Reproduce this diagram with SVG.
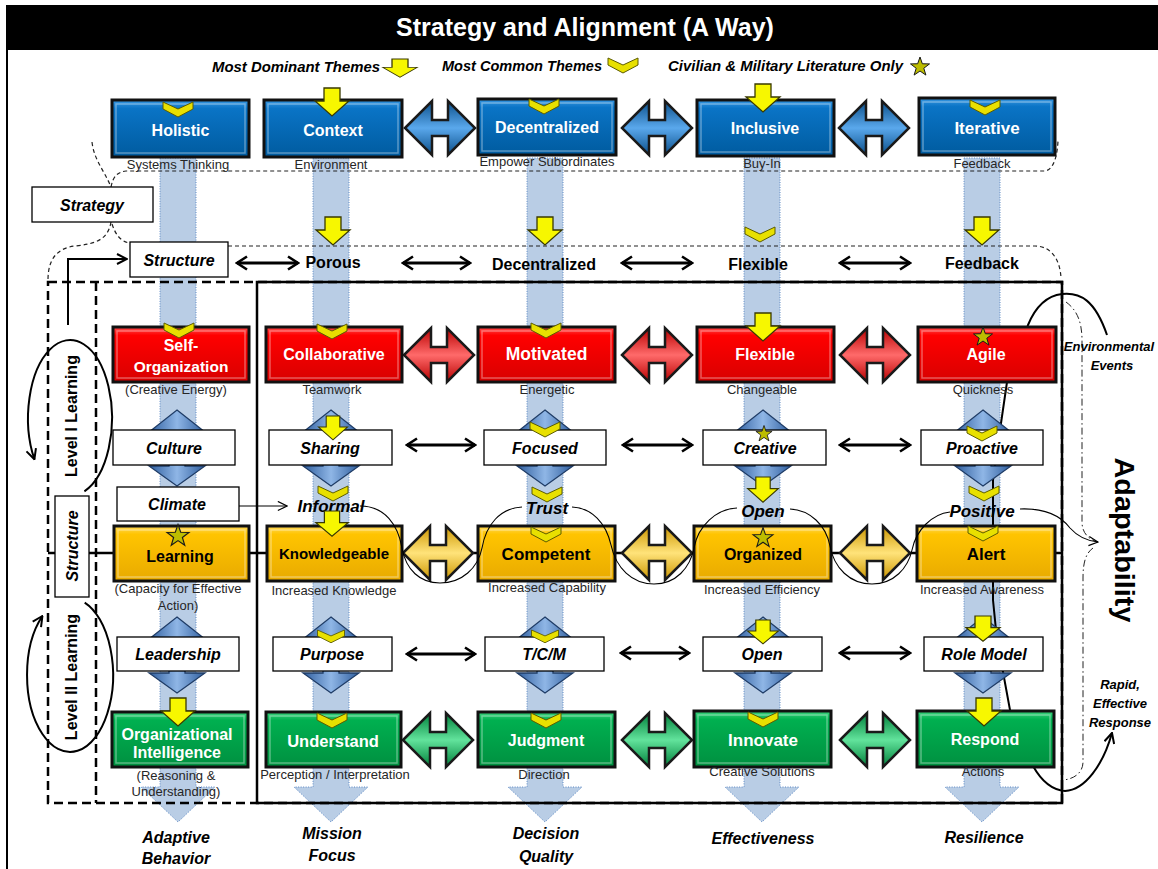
<svg xmlns="http://www.w3.org/2000/svg" width="1158" height="869" viewBox="0 0 1158 869">
<style>
text{font-family:"Liberation Sans",Arial,sans-serif}
.title{font-size:25px;font-weight:bold;fill:#fff;text-anchor:middle}
.leg{font-size:15px;font-weight:bold;font-style:italic;fill:#000}
.bw{font-size:16px;font-weight:bold;fill:#fff;text-anchor:middle}
.bk{font-size:16px;font-weight:bold;fill:#000;text-anchor:middle}
.sub{font-size:13px;fill:#262626;text-anchor:middle}
.bi{font-size:16px;font-weight:bold;font-style:italic;fill:#000;text-anchor:middle}
.b{font-size:16px;font-weight:bold;fill:#000;text-anchor:middle}
.sm{font-size:13px;font-weight:bold;font-style:italic;fill:#000;text-anchor:middle}
.band{fill:#b9cde5;stroke:#5f8ac4;stroke-width:1;stroke-dasharray:1 1.5}
.bx{stroke:#111;stroke-width:3}
.bev{fill:none;stroke:#fff;stroke-opacity:.35;stroke-width:1.5}
.tb{fill:#fff;stroke:#000;stroke-width:1.3}
.yel{fill:#f7f700;stroke:#3a3a00;stroke-width:1.3}
.chv{fill:#e8e000;stroke:#5c5c00;stroke-width:1}
.star{fill:#bdbd00;stroke:#1a1a1a;stroke-width:1}
.harr{stroke:#1a1a1a;stroke-width:2.5}
.varr{fill:url(#gV);stroke:#1f3c66;stroke-width:1.3}
.dash{fill:none;stroke:#222;stroke-width:1.2;stroke-dasharray:4 3}
.dd{fill:none;stroke:#222;stroke-width:1;stroke-dasharray:7 3 1.5 3}
.thick{fill:none;stroke:#000;stroke-width:3}
.mid{fill:none;stroke:#000;stroke-width:2}
.thin{fill:none;stroke:#000;stroke-width:1.1}
</style>
<defs>
<linearGradient id="gBlue" x1="0" y1="0" x2="0" y2="1"><stop offset="0" stop-color="#3a98e2"/><stop offset="0.15" stop-color="#0a74c6"/><stop offset="1" stop-color="#005b9f"/></linearGradient>
<linearGradient id="gRed" x1="0" y1="0" x2="0" y2="1"><stop offset="0" stop-color="#ff5050"/><stop offset="0.15" stop-color="#ff0000"/><stop offset="1" stop-color="#d80000"/></linearGradient>
<linearGradient id="gGold" x1="0" y1="0" x2="0" y2="1"><stop offset="0" stop-color="#ffd95a"/><stop offset="0.15" stop-color="#ffc400"/><stop offset="1" stop-color="#e8aa00"/></linearGradient>
<linearGradient id="gGreen" x1="0" y1="0" x2="0" y2="1"><stop offset="0" stop-color="#3fd47f"/><stop offset="0.15" stop-color="#00b050"/><stop offset="1" stop-color="#009040"/></linearGradient>
<linearGradient id="hB" x1="0" y1="0" x2="0" y2="1"><stop offset="0" stop-color="#0b4f8a"/><stop offset="0.5" stop-color="#5aa8ec"/><stop offset="1" stop-color="#0b4f8a"/></linearGradient>
<linearGradient id="hR" x1="0" y1="0" x2="0" y2="1"><stop offset="0" stop-color="#b80000"/><stop offset="0.5" stop-color="#ff6a6a"/><stop offset="1" stop-color="#b80000"/></linearGradient>
<linearGradient id="hY" x1="0" y1="0" x2="0" y2="1"><stop offset="0" stop-color="#cc9600"/><stop offset="0.5" stop-color="#ffe37a"/><stop offset="1" stop-color="#cc9600"/></linearGradient>
<linearGradient id="hG" x1="0" y1="0" x2="0" y2="1"><stop offset="0" stop-color="#00803a"/><stop offset="0.5" stop-color="#62e39c"/><stop offset="1" stop-color="#00803a"/></linearGradient>
<linearGradient id="gV" x1="0" y1="0" x2="1" y2="0"><stop offset="0" stop-color="#2f5e9e"/><stop offset="0.5" stop-color="#8fb6e6"/><stop offset="1" stop-color="#2f5e9e"/></linearGradient>
<path id="yarrow" class="yel" d="M-8,0H8V13H17L0,28L-17,13H-8Z"/>
<path id="chev" class="chv" d="M-15,0L0,7L15,0L15,7L0,15L-15,7Z"/>
<path id="star" class="star" d="M0,-10L2.35,-3.24L9.51,-3.09L3.8,1.24L5.88,8.09L0,4L-5.88,8.09L-3.8,1.24L-9.51,-3.09L-2.35,-3.24Z"/>
<path id="harr" class="harr" d="M-35,0L-8,-27V-8H8V-27L35,0L8,27V8H-8V27Z"/>
<marker id="ah" viewBox="0 0 14 16" refX="12" refY="8" markerWidth="14" markerHeight="16" markerUnits="userSpaceOnUse" orient="auto-start-reverse"><path d="M2,1.5L12,8L2,14.5" fill="none" stroke="#000" stroke-width="2.6"/></marker>
<marker id="am" viewBox="0 0 12 12" refX="11" refY="6" markerWidth="12" markerHeight="12" markerUnits="userSpaceOnUse" orient="auto"><path d="M1,1L11,6L1,11" fill="none" stroke="#000" stroke-width="2"/></marker>
<marker id="at" viewBox="0 0 12 12" refX="11" refY="6" markerWidth="11" markerHeight="11" markerUnits="userSpaceOnUse" orient="auto"><path d="M1,1L11,6L1,11" fill="none" stroke="#000" stroke-width="1.3"/></marker>
</defs>

<rect x="0" y="0" width="1158" height="869" fill="#fff"/>
<g id="title">
<rect x="6" y="5" width="1152" height="45" fill="#000"/>
<text class="title" x="585" y="36">Strategy and Alignment (A Way)</text>
<line x1="7" y1="50" x2="7" y2="869" stroke="#000" stroke-width="2"/>
</g>

<g id="legend">
<text class="leg" x="212" y="72" textLength="168" lengthAdjust="spacingAndGlyphs">Most Dominant Themes</text>
<use href="#yarrow" transform="translate(400,59) scale(1,0.65)"/>
<text class="leg" x="442" y="71" textLength="160" lengthAdjust="spacingAndGlyphs">Most Common Themes</text>
<use href="#chev" transform="translate(623,58)"/>
<text class="leg" x="668" y="71" textLength="235" lengthAdjust="spacingAndGlyphs">Civilian &amp; Military Literature Only</text>
<use href="#star" transform="translate(920,67)"/>
</g>

<g id="bands">
<path class="band" d="M160,158H196V787H215L178,822L141,787H160Z"/>
<path class="band" d="M313,158H349V787H368L331,822L294,787H313Z"/>
<path class="band" d="M527,158H563V787H582L545,822L508,787H527Z"/>
<path class="band" d="M744,158H780V787H799L762,822L725,787H744Z"/>
<path class="band" d="M964,158H1000V787H1019L982,822L945,787H964Z"/>
</g>

<g id="connectors">
<path class="dash" d="M92,142C94,160 104,170 111,187M111,187C113,177 117,172 126,171L1044,171C1052,171 1057,160 1058,141"/>
<path class="dash" d="M111,222C108,240 95,244 75,246C58,248 48,258 48,280M112,224C116,236 121,241 129,243M228,246L1035,246C1050,246 1060,258 1061,278"/>
<rect x="48" y="282" width="1014" height="521" fill="none" stroke="#000" stroke-width="2.5" stroke-dasharray="9 5"/>
<rect x="257" y="282" width="805" height="521" fill="none" stroke="#000" stroke-width="2.5"/>
<line x1="96" y1="282" x2="96" y2="803" stroke="#000" stroke-width="2.5" stroke-dasharray="9 5"/>
<line x1="48" y1="553" x2="1062" y2="553" stroke="#000" stroke-width="2.5"/>
<path class="mid" d="M68,325V259H127" marker-end="url(#am)"/>
<path class="mid" d="M84.4,491.3A42,78 0 1,0 34.4,459.3" marker-end="url(#am)"/>
<path class="mid" d="M84.7,602.6A43,77 0 1,1 42.4,616" marker-end="url(#am)"/>
<path class="mid" d="M1107,335C1095,300 1080,292 1062,294C1045,296 1035,308 1028,325L1007,382L1000,430L993,480L993,600L996,630L1003,672L1010,710L1033,766C1042,782 1052,790 1065,791C1085,790 1103,765 1112,733" marker-end="url(#am)"/>
<path class="dd" d="M1066,302C1077,310 1082,322 1082,340L1082,522C1082,534 1090,540 1098,542M1093,548C1086,553 1083,562 1083,578L1083,762C1083,772 1075,779 1063,780"/>
<use href="#harr" transform="translate(440,128)" fill="url(#hB)"/>
<use href="#harr" transform="translate(657,128)" fill="url(#hB)"/>
<use href="#harr" transform="translate(874,128)" fill="url(#hB)"/>
<use href="#harr" transform="translate(439,355)" fill="url(#hR)"/>
<use href="#harr" transform="translate(657,355)" fill="url(#hR)"/>
<use href="#harr" transform="translate(875,355)" fill="url(#hR)"/>
<use href="#harr" transform="translate(438,553)" fill="url(#hY)"/>
<use href="#harr" transform="translate(657,553)" fill="url(#hY)"/>
<use href="#harr" transform="translate(875,553)" fill="url(#hY)"/>
<use href="#harr" transform="translate(438,740)" fill="url(#hG)"/>
<use href="#harr" transform="translate(657,740)" fill="url(#hG)"/>
<use href="#harr" transform="translate(875,740)" fill="url(#hG)"/>
<path class="varr" d="M177,410L205,432H185V466H205L177,486L149,466H169V432H149Z"/>
<path class="varr" d="M331,410L359,432H339V466H359L331,486L303,466H323V432H303Z"/>
<path class="varr" d="M545,410L573,432H553V466H573L545,486L517,466H537V432H517Z"/>
<path class="varr" d="M763,410L791,432H771V466H791L763,486L735,466H755V432H735Z"/>
<path class="varr" d="M983,410L1011,432H991V466H1011L983,486L955,466H975V432H955Z"/>
<path class="varr" d="M177,617L205,639H185V673H205L177,693L149,673H169V639H149Z"/>
<path class="varr" d="M331,617L359,639H339V673H359L331,693L303,673H323V639H303Z"/>
<path class="varr" d="M545,617L573,639H553V673H573L545,693L517,673H537V639H517Z"/>
<path class="varr" d="M763,617L791,639H771V673H791L763,693L735,673H755V639H735Z"/>
<path class="varr" d="M983,617L1011,639H991V673H1011L983,693L955,673H975V639H955Z"/>
<g class="thick" marker-start="url(#ah)" marker-end="url(#ah)">
<line x1="237" y1="263" x2="298" y2="263"/>
<line x1="403" y1="263" x2="470" y2="263"/>
<line x1="622" y1="263" x2="692" y2="263"/>
<line x1="840" y1="263" x2="910" y2="263"/>
<line x1="407" y1="445" x2="475" y2="445"/>
<line x1="623" y1="445" x2="692" y2="445"/>
<line x1="840" y1="445" x2="910" y2="445"/>
<line x1="407" y1="654" x2="475" y2="654"/>
<line x1="621" y1="653" x2="689" y2="653"/>
<line x1="840" y1="653" x2="910" y2="653"/>
</g>
<line class="thin" x1="239" y1="506" x2="287" y2="506" marker-end="url(#at)"/>
</g>

<g id="n-strategy"><rect class="tb" x="32" y="187" width="121" height="35"/><text class="bi" x="92" y="211">Strategy</text></g>
<g id="n-structure"><rect class="tb" x="130" y="242" width="98" height="35"/><text class="bi" x="179" y="266">Structure</text></g>
<g id="n-level1"><text class="b" transform="translate(77,416) rotate(-90)">Level I Learning</text></g>
<g id="n-level2"><text class="b" transform="translate(77,677) rotate(-90)">Level II Learning</text></g>
<g id="n-structure-v"><rect class="tb" x="55" y="496" width="34" height="101"/><text class="bi" transform="translate(78,546) rotate(-90)">Structure</text></g>

<g id="n-holistic"><rect class="bx" x="112" y="100" width="137" height="57" fill="url(#gBlue)"/><rect class="bev" x="116" y="104" width="129" height="49"/><text class="bw" x="180.5" y="136">Holistic</text><text class="sub" x="178" y="169">Systems Thinking</text></g>
<g id="n-context"><rect class="bx" x="264" y="100" width="138" height="57" fill="url(#gBlue)"/><rect class="bev" x="268" y="104" width="130" height="49"/><text class="bw" x="333" y="136">Context</text><text class="sub" x="331" y="169">Environment</text></g>
<g id="n-decentralized"><rect class="bx" x="478" y="99" width="138" height="56" fill="url(#gBlue)"/><rect class="bev" x="482" y="103" width="130" height="48"/><text class="bw" x="547" y="133">Decentralized</text><text class="sub" x="547" y="166">Empower Subordinates</text></g>
<g id="n-inclusive"><rect class="bx" x="697" y="100" width="137" height="56" fill="url(#gBlue)"/><rect class="bev" x="701" y="104" width="129" height="48"/><text class="bw" x="765" y="134">Inclusive</text><text class="sub" x="762" y="168">Buy-In</text></g>
<g id="n-iterative"><rect class="bx" x="919" y="98" width="136" height="57" fill="url(#gBlue)"/><rect class="bev" x="923" y="102" width="128" height="49"/><text class="bw" x="987" y="134" style="font-size:17px">Iterative</text><text class="sub" x="982" y="168">Feedback</text></g>

<g id="n-porous"><text class="b" x="333" y="268">Porous</text></g>
<g id="n-decentralized2"><text class="b" x="544" y="270">Decentralized</text></g>
<g id="n-flexible2"><text class="b" x="758" y="270">Flexible</text></g>
<g id="n-feedback2"><text class="b" x="982" y="269">Feedback</text></g>

<g id="n-selforg"><rect class="bx" x="113" y="327" width="136" height="55" fill="url(#gRed)"/><rect class="bev" x="117" y="331" width="128" height="47"/><text class="bw" x="181" y="351">Self-</text><text class="bw" x="181" y="372" style="font-size:15.5px">Organization</text><text class="sub" x="176" y="394">(Creative Energy)</text></g>
<g id="n-collaborative"><rect class="bx" x="266" y="327" width="136" height="55" fill="url(#gRed)"/><rect class="bev" x="270" y="331" width="128" height="47"/><text class="bw" x="334" y="360">Collaborative</text><text class="sub" x="332" y="394">Teamwork</text></g>
<g id="n-motivated"><rect class="bx" x="478" y="327" width="137" height="55" fill="url(#gRed)"/><rect class="bev" x="482" y="331" width="129" height="47"/><text class="bw" x="546.5" y="360" style="font-size:17.5px">Motivated</text><text class="sub" x="547" y="394">Energetic</text></g>
<g id="n-flexible"><rect class="bx" x="697" y="327" width="137" height="55" fill="url(#gRed)"/><rect class="bev" x="701" y="331" width="129" height="47"/><text class="bw" x="765" y="360">Flexible</text><text class="sub" x="762" y="394">Changeable</text></g>
<g id="n-agile"><rect class="bx" x="918" y="327" width="138" height="55" fill="url(#gRed)"/><rect class="bev" x="922" y="331" width="130" height="47"/><text class="bw" x="986" y="360">Agile</text><text class="sub" x="983" y="394">Quickness</text></g>

<g id="n-culture"><rect class="tb" x="113" y="430" width="122" height="35"/><text class="bi" x="174" y="454">Culture</text></g>
<g id="n-sharing"><rect class="tb" x="269" y="430" width="123" height="35"/><text class="bi" x="330" y="454">Sharing</text></g>
<g id="n-focused"><rect class="tb" x="484" y="430" width="122" height="35"/><text class="bi" x="545" y="454">Focused</text></g>
<g id="n-creative"><rect class="tb" x="703" y="430" width="123" height="35"/><text class="bi" x="765" y="454">Creative</text></g>
<g id="n-proactive"><rect class="tb" x="921" y="430" width="122" height="35"/><text class="bi" x="982" y="454">Proactive</text></g>
<g id="n-climate"><rect class="tb" x="117" y="487" width="122" height="34"/><text class="bi" x="177" y="510">Climate</text></g>

<g id="n-informal"><text class="bi" x="331" y="512" style="font-size:17px">Informal</text></g>
<g id="n-trust"><text class="bi" x="547" y="514" style="font-size:17px">Trust</text></g>
<g id="n-open1"><text class="bi" x="763" y="517" style="font-size:17px">Open</text></g>
<g id="n-positive"><text class="bi" x="982" y="517" style="font-size:17px">Positive</text></g>

<g id="n-learning"><rect class="bx" x="114" y="526" width="135" height="55" fill="url(#gGold)"/><rect class="bev" x="118" y="530" width="127" height="47"/><text class="bk" x="180" y="562">Learning</text><text class="sub" x="178" y="593">(Capacity for Effective</text><text class="sub" x="178" y="610">Action)</text></g>
<g id="n-knowledgeable"><rect class="bx" x="267" y="526" width="135" height="55" fill="url(#gGold)"/><rect class="bev" x="271" y="530" width="127" height="47"/><text class="bk" x="334" y="559" style="font-size:15px">Knowledgeable</text><text class="sub" x="334" y="595">Increased Knowledge</text></g>
<g id="n-competent"><rect class="bx" x="478" y="526" width="137" height="55" fill="url(#gGold)"/><rect class="bev" x="482" y="530" width="129" height="47"/><text class="bk" x="546" y="560" style="font-size:17px">Competent</text><text class="sub" x="547" y="592">Increased Capability</text></g>
<g id="n-organized"><rect class="bx" x="694" y="526" width="137" height="55" fill="url(#gGold)"/><rect class="bev" x="698" y="530" width="129" height="47"/><text class="bk" x="763" y="560">Organized</text><text class="sub" x="762" y="594">Increased Efficiency</text></g>
<g id="n-alert"><rect class="bx" x="917" y="526" width="138" height="55" fill="url(#gGold)"/><rect class="bev" x="921" y="530" width="130" height="47"/><text class="bk" x="986" y="560" style="font-size:17px">Alert</text><text class="sub" x="982" y="594">Increased Awareness</text></g>

<g id="n-leadership"><rect class="tb" x="117" y="637" width="122" height="34"/><text class="bi" x="178" y="660">Leadership</text></g>
<g id="n-purpose"><rect class="tb" x="273" y="637" width="119" height="34"/><text class="bi" x="332" y="660">Purpose</text></g>
<g id="n-tcm"><rect class="tb" x="485" y="637" width="119" height="34"/><text class="bi" x="544" y="660">T/C/M</text></g>
<g id="n-open2"><rect class="tb" x="703" y="637" width="119" height="34"/><text class="bi" x="762" y="660">Open</text></g>
<g id="n-rolemodel"><rect class="tb" x="924" y="637" width="119" height="34"/><text class="bi" x="984" y="660">Role Model</text></g>

<g id="n-orgint"><rect class="bx" x="112" y="712" width="136" height="55" fill="url(#gGreen)"/><rect class="bev" x="116" y="716" width="128" height="47"/><text class="bw" x="177" y="740">Organizational</text><text class="bw" x="177" y="758">Intelligence</text><text class="sub" x="176" y="780">(Reasoning &amp;</text><text class="sub" x="176" y="796">Understanding)</text></g>
<g id="n-understand"><rect class="bx" x="266" y="712" width="135" height="55" fill="url(#gGreen)"/><rect class="bev" x="270" y="716" width="127" height="47"/><text class="bw" x="333" y="747" style="font-size:16.5px">Understand</text><text class="sub" x="335" y="779">Perception / Interpretation</text></g>
<g id="n-judgment"><rect class="bx" x="478" y="712" width="137" height="55" fill="url(#gGreen)"/><rect class="bev" x="482" y="716" width="129" height="47"/><text class="bw" x="546" y="746">Judgment</text><text class="sub" x="544" y="779">Direction</text></g>
<g id="n-innovate"><rect class="bx" x="694" y="711" width="137" height="56" fill="url(#gGreen)"/><rect class="bev" x="698" y="715" width="129" height="48"/><text class="bw" x="763" y="746" style="font-size:17px">Innovate</text><text class="sub" x="762" y="776">Creative Solutions</text></g>
<g id="n-respond"><rect class="bx" x="917" y="711" width="137" height="56" fill="url(#gGreen)"/><rect class="bev" x="921" y="715" width="129" height="48"/><text class="bw" x="985" y="745">Respond</text><text class="sub" x="983" y="776">Actions</text></g>

<g id="icons">
<use href="#chev" transform="translate(178,102)"/>
<use href="#yarrow" transform="translate(332,88)"/>
<use href="#chev" transform="translate(544,99)"/>
<use href="#yarrow" transform="translate(763,84)"/>
<use href="#chev" transform="translate(985,100)"/>
<use href="#yarrow" transform="translate(333,217)"/>
<use href="#yarrow" transform="translate(545,217)"/>
<use href="#chev" transform="translate(760,227)"/>
<use href="#yarrow" transform="translate(982,217)"/>
<use href="#chev" transform="translate(179,323)"/>
<use href="#chev" transform="translate(332,324)"/>
<use href="#chev" transform="translate(546,323)"/>
<use href="#yarrow" transform="translate(763,313)"/>
<use href="#star" transform="translate(983,337)"/>
<use href="#yarrow" transform="translate(333,416) scale(0.85)"/>
<use href="#chev" transform="translate(545,422)"/>
<use href="#star" transform="translate(764,434) scale(0.85)"/>
<use href="#chev" transform="translate(982,426)"/>
<use href="#chev" transform="translate(333,486)"/>
<use href="#chev" transform="translate(547,487)"/>
<use href="#yarrow" transform="translate(763,477) scale(0.9)"/>
<use href="#chev" transform="translate(984,486)"/>
<use href="#star" transform="translate(178,536) scale(1.15)"/>
<use href="#yarrow" transform="translate(332,511) scale(0.95,0.9)"/>
<use href="#chev" transform="translate(546,527)"/>
<use href="#star" transform="translate(763,538) scale(1.05)"/>
<use href="#chev" transform="translate(983,526)"/>
<use href="#chev" transform="translate(331,630) scale(0.9,0.85)"/>
<use href="#chev" transform="translate(545,630) scale(0.9,0.85)"/>
<use href="#yarrow" transform="translate(763,620) scale(0.9,0.85)"/>
<use href="#yarrow" transform="translate(983,616) scale(1,0.9)"/>
<use href="#yarrow" transform="translate(178,698)"/>
<use href="#chev" transform="translate(332,713)"/>
<use href="#chev" transform="translate(546,713)"/>
<use href="#chev" transform="translate(763,712)"/>
<use href="#yarrow" transform="translate(984,698)"/>
</g>

<g id="connectors-top">
<path class="thin" d="M360,506C385,506 398,525 402,548C406,570 420,583 440,583C462,583 478,568 482,548C486,525 500,508 522,507"/>
<path class="thin" d="M572,507C592,508 606,523 611,545C616,568 632,584 654,584C676,584 690,568 694,548C698,526 716,509 737,508"/>
<path class="thin" d="M790,509C810,510 826,525 830,546C834,568 850,584 872,584C894,584 908,568 912,550C916,530 932,514 950,512"/>
<path class="thin" d="M1020,509C1045,508 1060,515 1070,528C1078,537 1088,541 1098,542" marker-end="url(#at)"/>
</g>

<g id="n-adaptability"><text class="b" transform="translate(1115,540) rotate(90)" style="font-size:28px" textLength="165" lengthAdjust="spacingAndGlyphs">Adaptability</text></g>
<g id="n-env"><text class="sm" x="1109" y="351">Environmental</text><text class="sm" x="1112" y="370">Events</text></g>
<g id="n-rapid"><text class="sm" x="1120" y="689">Rapid,</text><text class="sm" x="1120" y="708">Effective</text><text class="sm" x="1120" y="727">Response</text></g>

<g id="n-outcomes">
<text class="bi" x="176" y="843">Adaptive</text><text class="bi" x="176" y="864">Behavior</text>
<text class="bi" x="332" y="839">Mission</text><text class="bi" x="332" y="861">Focus</text>
<text class="bi" x="546" y="839">Decision</text><text class="bi" x="546" y="862">Quality</text>
<text class="bi" x="763" y="844">Effectiveness</text>
<text class="bi" x="984" y="843">Resilience</text>
</g>
</svg>
